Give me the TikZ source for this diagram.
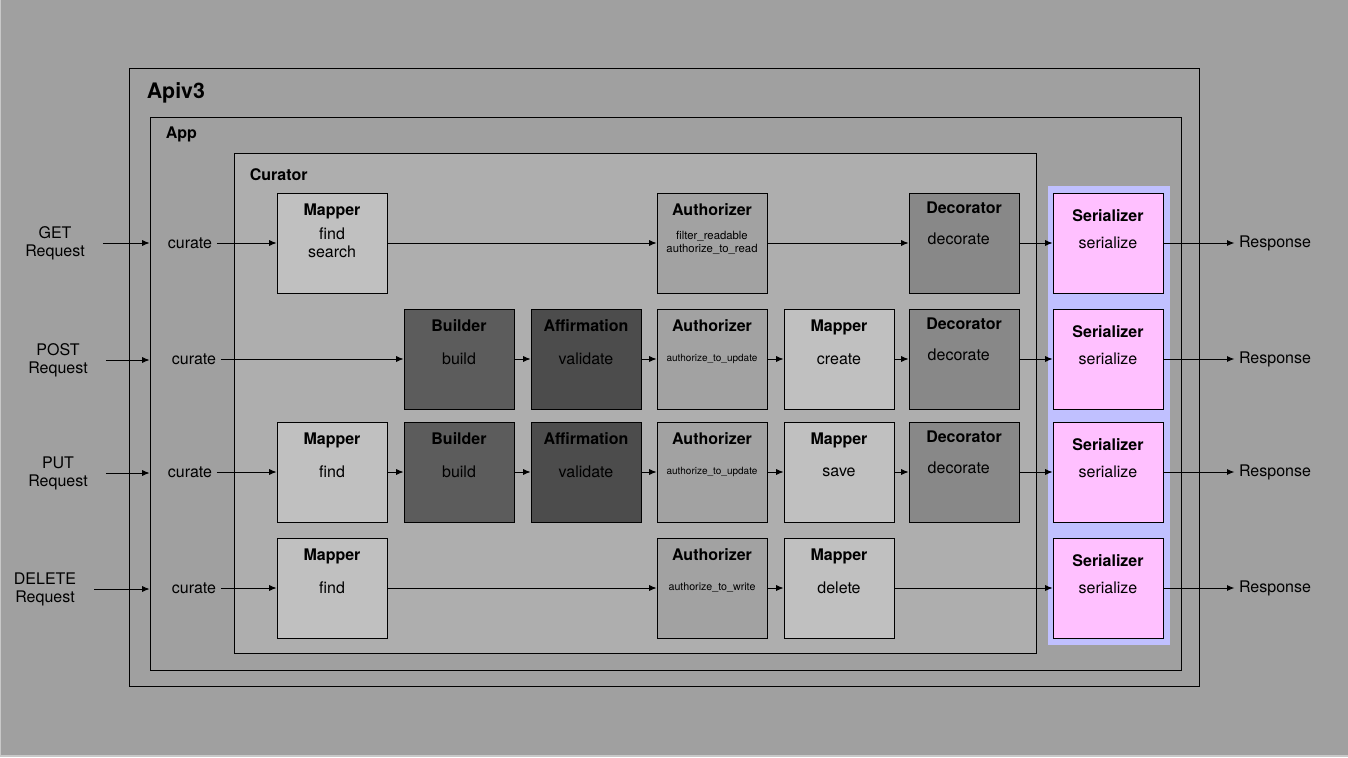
\documentclass[tikz,border=0pt]{standalone}
\usepackage{fontspec}
\setmainfont{TeX Gyre Heros}
\usetikzlibrary{arrows.meta,positioning,fit}

\definecolor{bggray}{RGB}{160,160,160}
\definecolor{edgegray}{RGB}{200,200,200}
\definecolor{curatorgray}{RGB}{174,174,174}
\definecolor{mappergray}{RGB}{192,192,192}
\definecolor{buildergray}{RGB}{92,92,92}
\definecolor{affirmgray}{RGB}{76,76,76}
\definecolor{authgray}{RGB}{162,162,162}
\definecolor{decogray}{RGB}{136,136,136}
\definecolor{serpink}{RGB}{255,192,255}
\definecolor{serband}{RGB}{192,192,255}

\begin{document}
\begin{tikzpicture}[
    x=0.75pt, y=-0.75pt,
    >={Latex[length=5.5pt,width=4.5pt]},
    font=\fontsize{12}{13.5}\selectfont,
    frame/.style={draw, line width=0.65pt, inner sep=0pt},
    frametitle/.style={anchor=base west, inner sep=0pt, font=\fontsize{12}{14}\selectfont\bfseries},
    box/.style={draw, line width=0.65pt, minimum width=82.5pt, minimum height=75pt, inner sep=0pt, align=center},
    titletext/.style={anchor=base, inner sep=0pt, yshift=-17.5pt, font=\fontsize{12}{14}\selectfont\bfseries},
    title/.style={label={[titletext]north:#1}},
    mapper/.style={box, fill=mappergray, title=Mapper},
    builder/.style={box, fill=buildergray, title=Builder},
    affirm/.style={box, fill=affirmgray, title=Affirmation},
    authorizer/.style={box, fill=authgray, title=Authorizer, font=\fontsize{8}{9.75}\selectfont},
    decorator/.style={box, fill=decogray, label={[titletext, yshift=1.5pt]north:Decorator},
        label={[anchor=center, inner sep=0pt, xshift=-4pt, yshift=3.5pt]center:decorate}},
    serializer/.style={box, fill=serpink, label={[titletext, yshift=-4.5pt]north:Serializer}},
    reqtext/.style={align=center},
    link/.style={->, line width=0.65pt}
]
% canvas
\useasboundingbox (0,0) rectangle (1348,757);
\fill[bggray] (0,0) rectangle (1348,757);
\draw[edgegray, line width=1pt] (0.7,0) -- (0.7,756) -- (1348,756);

% nested containers
\node[frame, fit={(129,68) (1199,686)},
      label={[frametitle, font=\fontsize{16}{19}\selectfont\bfseries, xshift=13.5pt, yshift=-23pt]north west:Apiv3}] (apiv3) {};
\node[frame, fit={(150,117) (1181,670)},
      label={[frametitle, xshift=12pt, yshift=-16.5pt]north west:App}] (app) {};
\node[frame, fill=curatorgray, fit={(234,153) (1036,653)},
      label={[frametitle, xshift=12pt, yshift=-21pt]north west:Curator}] (curator) {};
\node[fill=serband, inner sep=0pt, fit={(1048,186) (1170,645)}] (serzone) {};

% GET
\node[reqtext] (getreq) at (55,243) {GET\\Request};
\node (getcur) at (190,243) {curate};
\node[mapper] (getmap) at (332,243) {find\\search};
\node[authorizer, font=\fontsize{8.5}{9.75}\selectfont] (getauth) at (712,243) {filter\_readable\\authorize\_to\_read};
\node[decorator] (getdec) at (964,243) {};
\node[serializer] (getser) at (1108,243) {serialize};
\node (getresp) at (1275,243) {Response};

% POST
\node[reqtext] (postreq) at (58,360) {POST\\Request};
\node (postcur) at (194,359) {curate};
\node[builder] (postbuild) at (459,359) {build};
\node[affirm] (postaff) at (586,359) {validate};
\node[authorizer, font=\fontsize{7.5}{9}\selectfont] (postauth) at (712,359) {authorize\_to\_update};
\node[mapper] (postmap) at (839,359) {create};
\node[decorator] (postdec) at (964,359) {};
\node[serializer] (postser) at (1108,359) {serialize};
\node (postresp) at (1275,359) {Response};

% PUT
\node[reqtext] (putreq) at (58,473) {PUT\\Request};
\node (putcur) at (190,472) {curate};
\node[mapper] (putmap) at (332,472) {find};
\node[builder] (putbuild) at (459,472) {build};
\node[affirm] (putaff) at (586,472) {validate};
\node[authorizer, font=\fontsize{7.5}{9}\selectfont] (putauth) at (712,472) {authorize\_to\_update};
\node[mapper] (putsave) at (839,472) {save};
\node[decorator] (putdec) at (964,472) {};
\node[serializer] (putser) at (1108,472) {serialize};
\node (putresp) at (1275,472) {Response};

% DELETE
\node[reqtext] (delreq) at (45,589) {DELETE\\Request};
\node (delcur) at (194,588) {curate};
\node[mapper] (delmap) at (332,588) {find};
\node[authorizer] (delauth) at (712,588) {authorize\_to\_write};
\node[mapper] (deldel) at (839,588) {delete};
\node[serializer] (delser) at (1108,588) {serialize};
\node (delresp) at (1275,588) {Response};

% flows
\draw[link, shorten <=10pt] (getreq) -- (getreq -| app.west);
\draw[link] (getcur) -- (getmap);
\draw[link] (getmap) -- (getauth);
\draw[link] (getauth) -- (getdec);
\draw[link] (getdec) -- (getser);
\draw[link] (getser) -- (getresp);

\draw[link, shorten <=10pt] (postreq) -- (postreq -| app.west);
\draw[link] (postcur) -- (postbuild);
\draw[link] (postbuild) -- (postaff);
\draw[link] (postaff) -- (postauth);
\draw[link] (postauth) -- (postmap);
\draw[link] (postmap) -- (postdec);
\draw[link] (postdec) -- (postser);
\draw[link] (postser) -- (postresp);

\draw[link, shorten <=10pt] (putreq) -- (putreq -| app.west);
\draw[link] (putcur) -- (putmap);
\draw[link] (putmap) -- (putbuild);
\draw[link] (putbuild) -- (putaff);
\draw[link] (putaff) -- (putauth);
\draw[link] (putauth) -- (putsave);
\draw[link] (putsave) -- (putdec);
\draw[link] (putdec) -- (putser);
\draw[link] (putser) -- (putresp);

\draw[link, shorten <=10pt] (delreq) -- (delreq -| app.west);
\draw[link] (delcur) -- (delmap);
\draw[link] (delmap) -- (delauth);
\draw[link] (delauth) -- (deldel);
\draw[link] (deldel) -- (delser);
\draw[link] (delser) -- (delresp);
\end{tikzpicture}
\end{document}
